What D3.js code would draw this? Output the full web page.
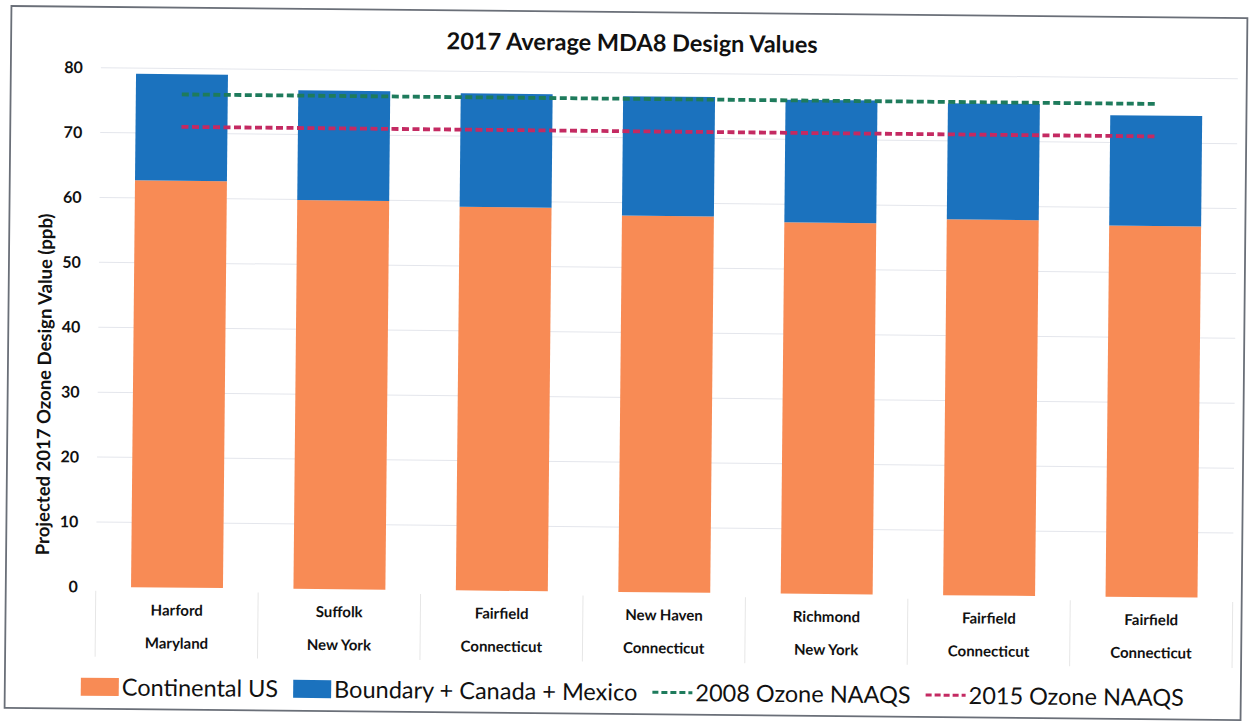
<!DOCTYPE html>
<html>
<head>
<meta charset="utf-8">
<script src="https://cdn.jsdelivr.net/npm/d3@7/dist/d3.min.js"></script>
<style>
  html, body { margin: 0; padding: 0; background: #ffffff; }
  svg { display: block; }
  text { font-family: Lato, "Open Sans", sans-serif; fill: #111; }
</style>
</head>
<body>
<svg id="chart" width="1249" height="725"></svg>
<script>
// Sites (county / state) and their projected 2017 ozone design values (ppb)
const counties = ["Harford", "Suffolk", "Fairfield", "New Haven", "Richmond", "Fairfield", "Fairfield"];
const states = ["Maryland", "New York", "Connecticut", "Connecticut", "New York", "Connecticut", "Connecticut"];
const continentalUS = [62.7, 59.9, 59.1, 58.0, 57.2, 57.9, 57.2];
const boundaryCanadaMexico = [16.4, 16.9, 17.5, 18.4, 18.9, 17.9, 17.0];
const naaqs2008 = [76, 76, 76, 76, 76, 76, 76];
const naaqs2015 = [71, 71, 71, 71, 71, 71, 71];
const yTicks = [0, 10, 20, 30, 40, 50, 60, 70, 80];

const title = "2017 Average MDA8 Design Values";
const yTitle = "Projected 2017 Ozone Design Value (ppb)";

const colors = {
  continental: "#F88B55",
  boundary: "#1B72BE",
  n2008: "#1E7B5C",
  n2015: "#C42A62"
};

const W = 1249, H = 725;
const plot = { left: 98, right: 1235, top: 72.8, bottom: 592 };

const svg = d3.select("#chart");
// the sheet sits very slightly tilted on the page
const root = svg.append("g").attr("transform", `rotate(0.56, ${W / 2}, ${H / 2})`);

// outer frame
root.append("rect")
  .attr("x", 8).attr("y", 12).attr("width", 1236).attr("height", 702)
  .attr("fill", "none").attr("stroke", "#6a6f78").attr("stroke-width", 1.8);

const idx = d3.range(counties.length);
const x = d3.scaleBand().domain(idx).range([plot.left, plot.right]).paddingInner(0.434).paddingOuter(0.217);
const y = d3.scaleLinear().domain([0, 80]).range([plot.bottom, plot.top]);

// horizontal gridlines
root.append("g")
  .selectAll("line").data(yTicks.filter(t => t > 0)).join("line")
  .attr("x1", plot.left).attr("x2", plot.right)
  .attr("y1", d => y(d)).attr("y2", d => y(d))
  .attr("stroke", "#e4e6ec").attr("stroke-width", 1);

// category dividers under the axis
const step = x.step();
root.append("g")
  .selectAll("line").data(d3.range(counties.length + 1)).join("line")
  .attr("x1", i => plot.left + i * step).attr("x2", i => plot.left + i * step)
  .attr("y1", plot.bottom + 4).attr("y2", plot.bottom + 70)
  .attr("stroke", "#e6e6e6").attr("stroke-width", 1);

// y axis tick labels
const yAxis = d3.axisLeft(y).tickValues(yTicks).tickSize(0).tickPadding(18);
const yg = root.append("g").attr("transform", `translate(${plot.left},0)`).call(yAxis);
yg.select(".domain").remove();
yg.selectAll("text")
  .style("font-family", "Lato, sans-serif")
  .style("font-size", "16px").style("font-weight", "bold").attr("fill", "#111");

// stacked bars
const stackData = idx.map(i => ({ i, continental: continentalUS[i], boundary: boundaryCanadaMexico[i] }));
const series = d3.stack().keys(["continental", "boundary"])(stackData);
root.append("g")
  .selectAll("g").data(series).join("g")
  .attr("fill", d => colors[d.key])
  .selectAll("rect").data(d => d).join("rect")
  .attr("x", d => x(d.data.i))
  .attr("width", x.bandwidth())
  .attr("y", d => y(d[1]))
  .attr("height", d => y(d[0]) - y(d[1]));

// NAAQS reference lines through the category centres
const cx = i => x(i) + x.bandwidth() / 2;
const line = d3.line().x((d, i) => cx(i)).y(d => y(d));
root.append("path").datum(naaqs2008).attr("d", line)
  .attr("fill", "none").attr("stroke", colors.n2008)
  .attr("stroke-width", 3.8).attr("stroke-dasharray", "7,3.5");
root.append("path").datum(naaqs2015).attr("d", line)
  .attr("fill", "none").attr("stroke", colors.n2015)
  .attr("stroke-width", 3.8).attr("stroke-dasharray", "7,3.5");

// category labels (two lines)
const cat = root.append("g").selectAll("g").data(idx).join("g")
  .attr("transform", i => `translate(${cx(i)},0)`);
cat.append("text").attr("y", plot.bottom + 28).attr("text-anchor", "middle")
  .style("font-size", "15px").style("font-weight", "bold").text(i => counties[i]);
cat.append("text").attr("y", plot.bottom + 61).attr("text-anchor", "middle")
  .style("font-size", "15px").style("font-weight", "bold").text(i => states[i]);

// chart title
root.append("text").attr("x", 629).attr("y", 51).attr("text-anchor", "middle")
  .style("font-size", "23.5px").style("font-weight", "bold").text(title);

// y axis title
root.append("text")
  .attr("transform", "translate(51, 390) rotate(-90)")
  .attr("text-anchor", "middle")
  .style("font-size", "18.5px").style("font-weight", "bold").text(yTitle);

// legend
const legendItems = [
  { label: "Continental US", type: "box", color: colors.continental },
  { label: "Boundary + Canada + Mexico", type: "box", color: colors.boundary },
  { label: "2008 Ozone NAAQS", type: "dash", color: colors.n2008 },
  { label: "2015 Ozone NAAQS", type: "dash", color: colors.n2015 }
];
const legend = root.append("g").attr("transform", "translate(84, 692)");
let lx = 0;
legendItems.forEach(item => {
  const g = legend.append("g").attr("transform", `translate(${lx},0)`);
  if (item.type === "box") {
    g.append("rect").attr("x", 0).attr("y", -9).attr("width", 38).attr("height", 18).attr("fill", item.color);
  } else {
    g.append("line").attr("x1", 0).attr("x2", 40).attr("y1", 0).attr("y2", 0)
      .attr("stroke", item.color).attr("stroke-width", 3).attr("stroke-dasharray", "6,3");
  }
  const t = g.append("text").attr("x", item.type === "box" ? 41 : 43).attr("y", 8.5)
    .style("font-size", "23.5px").text(item.label);
  lx += (item.type === "box" ? 41 : 43) + t.node().getComputedTextLength() + 15;
});
</script>
</body>
</html>
